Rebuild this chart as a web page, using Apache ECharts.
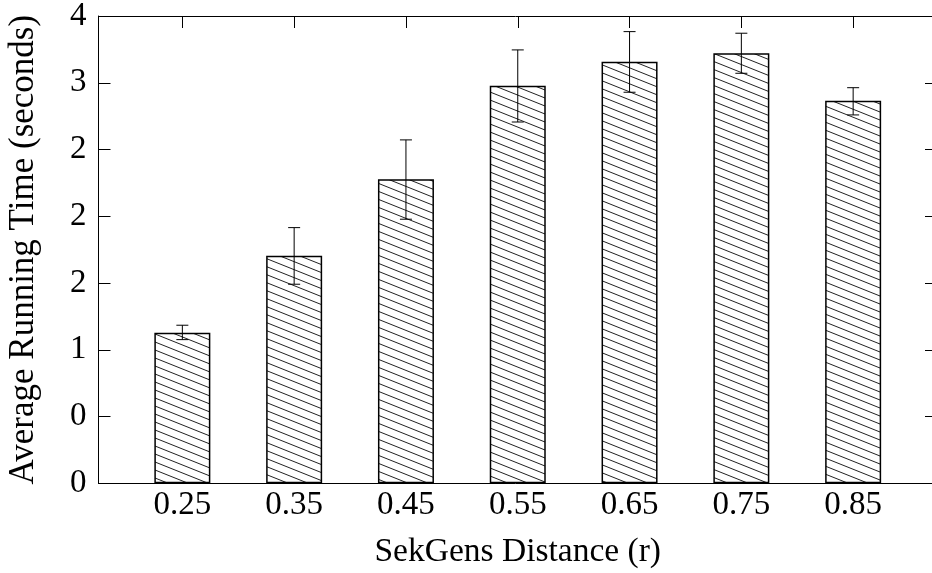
<!DOCTYPE html>
<html>
<head>
<meta charset="utf-8">
<script src="https://cdn.jsdelivr.net/npm/echarts@6/dist/echarts.min.js"></script>
<style>
  html, body { margin: 0; padding: 0; background: #fff; }
  #main { width: 932px; height: 573px; }
</style>
</head>
<body>
<div id="main"></div>
<script>
// data
var categories = ['0.25', '0.35', '0.45', '0.55', '0.65', '0.75', '0.85'];
var meanTime = [1.128, 1.705, 2.277, 2.978, 3.158, 3.221, 2.866];
var errLow = [1.076, 1.491, 1.978, 2.706, 2.929, 3.071, 2.759];
var errHigh = [1.184, 1.915, 2.572, 3.246, 3.383, 3.371, 2.963];
var yTickLabels = ['0', '0', '1', '2', '2', '2', '3', '4'];

var FONT = 'Liberation Serif';

// hatch pattern  \\\\
var hatch = document.createElement('canvas');
hatch.width = 20;
hatch.height = 8;
var ctx = hatch.getContext('2d');
ctx.fillStyle = '#fff';
ctx.fillRect(0, 0, 20, 8);
ctx.strokeStyle = '#222';
ctx.lineWidth = 1;
[-8, 0, 8].forEach(function (o) {
    ctx.beginPath();
    ctx.moveTo(0, o);
    ctx.lineTo(20, o + 8);
    ctx.stroke();
});

var idx = categories.map(function (c, i) { return i; });
var barData = meanTime.map(function (v, i) { return [i, v]; });
var errData = idx.map(function (i) { return [i, errLow[i], errHigh[i]]; });

var tickStyle = { inside: true, length: 12, lineStyle: { color: '#000', width: 1 } };
var lineStyle = { show: true, onZero: false, lineStyle: { color: '#000', width: 1 } };

var chart = echarts.init(document.getElementById('main'));
chart.setOption({
    animation: false,
    backgroundColor: '#fff',
    grid: { left: 98.5, right: -5, top: 16, bottom: 89.7, outerBoundsMode: 'none', containLabel: false },
    xAxis: [
        {
            type: 'value', min: -0.75, max: 6.75,
            name: 'SekGens Distance (r)', nameLocation: 'middle', nameGap: 52,
            nameTextStyle: { fontFamily: FONT, fontSize: 33.5, color: '#000' },
            axisLine: lineStyle,
            axisTick: Object.assign({ customValues: idx }, tickStyle),
            axisLabel: {
                customValues: idx, margin: 6,
                fontFamily: FONT, fontSize: 33, color: '#000',
                formatter: function (v) { return categories[Math.round(v)]; }
            },
            splitLine: { show: false }
        },
        {
            type: 'value', min: -0.75, max: 6.75, position: 'top',
            axisLine: lineStyle,
            axisTick: Object.assign({ customValues: idx }, tickStyle),
            axisLabel: { show: false },
            splitLine: { show: false }
        }
    ],
    yAxis: [
        {
            type: 'value', min: 0, max: 3.5, interval: 0.5,
            name: 'Average Running Time (seconds)', nameLocation: 'middle', nameGap: 57,
            nameTextStyle: { fontFamily: FONT, fontSize: 35, color: '#000' },
            axisLine: lineStyle,
            axisTick: tickStyle,
            axisLabel: {
                margin: 12, fontFamily: FONT, fontSize: 33, color: '#000',
                formatter: function (v) { return yTickLabels[Math.round(v / 0.5)]; }
            },
            splitLine: { show: false }
        },
        {
            type: 'value', min: 0, max: 3.5, interval: 0.5, position: 'right',
            axisLine: lineStyle,
            axisTick: tickStyle,
            axisLabel: { show: false },
            splitLine: { show: false }
        }
    ],
    series: [
        {
            type: 'bar',
            data: barData,
            barWidth: 56,
            itemStyle: {
                color: { image: hatch, repeat: 'repeat' },
                borderColor: '#000', borderWidth: 1.5
            }
        },
        {
            type: 'custom',
            data: errData,
            z: 5,
            renderItem: function (params, api) {
                var x = api.value(0);
                var lo = api.coord([x, api.value(1)]);
                var hi = api.coord([x, api.value(2)]);
                var cap = 6;
                var st = { stroke: '#000', lineWidth: 1 };
                return {
                    type: 'group',
                    children: [
                        { type: 'line', shape: { x1: hi[0], y1: hi[1], x2: lo[0], y2: lo[1] }, style: st },
                        { type: 'line', shape: { x1: hi[0] - cap, y1: hi[1], x2: hi[0] + cap, y2: hi[1] }, style: st },
                        { type: 'line', shape: { x1: lo[0] - cap, y1: lo[1], x2: lo[0] + cap, y2: lo[1] }, style: st }
                    ]
                };
            }
        }
    ]
});
</script>
</body>
</html>
